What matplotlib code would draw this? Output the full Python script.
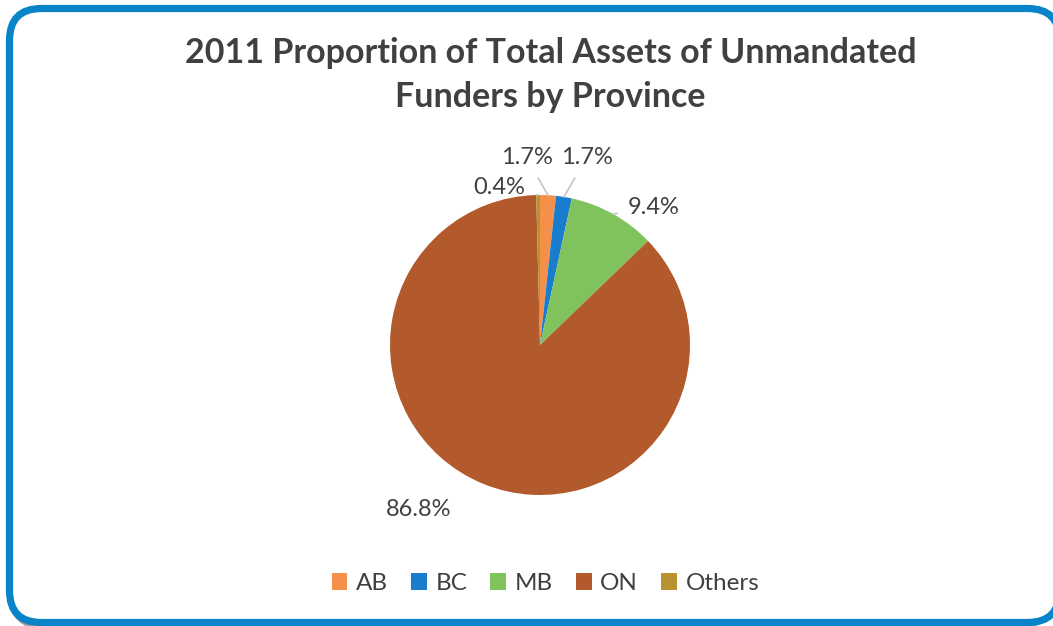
import matplotlib
matplotlib.use("Agg")
import matplotlib.pyplot as plt
import numpy as np
from matplotlib.patches import FancyBboxPatch, Patch

# ---- data ----
categories = ["AB", "BC", "MB", "ON", "Others"]
values = [1.7, 1.7, 9.4, 86.8, 0.4]
labels = ["1.7%", "1.7%", "9.4%", "86.8%", "0.4%"]
colors = ["#f4904a", "#1a7ccc", "#80c25c", "#b35a2c", "#b8922e"]
title = "2011 Proportion of Total Assets of Unmandated\nFunders by Province"

# label positions (pie data units, radius = 1)
label_pos = [(-0.09, 1.25), (0.31, 1.25), (0.76, 0.92), (-0.81, -1.10), (-0.27, 1.05)]
show_leader = [True, True, True, False, True]

plt.rcParams['font.family'] = ['Lato', 'DejaVu Sans']

W, H = 1053, 626
fig = plt.figure(figsize=(W / 100, H / 100), dpi=100)

# background / frame axes in pixel coordinates
bg = fig.add_axes([0, 0, 1, 1])
bg.set_xlim(0, W)
bg.set_ylim(H, 0)
bg.axis("off")
shadow = FancyBboxPatch((12, 12), 1050, 614, boxstyle="round,pad=0,rounding_size=32",
                        fc="none", ec="#9a9a9a", lw=5)
bg.add_patch(shadow)
frame = FancyBboxPatch((9.5, 8.5), 1050, 614, boxstyle="round,pad=0,rounding_size=32",
                       fc="white", ec="#0a84c8", lw=5.2)
bg.add_patch(frame)

fig.text(0.523, 1 - 75 / 626, title, ha="center", va="center", fontsize=24.5,
         fontweight="bold", color="#404040", linespacing=1.45)

# pie axes
cx, cy, r = 540, 345, 150
ax = fig.add_axes([(cx - r) / W, (H - cy - r) / H, 2 * r / W, 2 * r / H])
wedges, _ = ax.pie(values, colors=colors, startangle=90, counterclock=False, radius=1,
                   wedgeprops=dict(linewidth=0))
ax.set_xlim(-1, 1)
ax.set_ylim(-1, 1)
ax.set_aspect("equal")
ax.axis("off")

for w, lab, pos, lead in zip(wedges, labels, label_pos, show_leader):
    ang = np.deg2rad((w.theta1 + w.theta2) / 2)
    edge = (np.cos(ang), np.sin(ang))
    if lead:
        ax.annotate(lab, xy=edge, xytext=pos, ha="center", va="center", fontsize=17,
                    color="#404040", annotation_clip=False,
                    arrowprops=dict(arrowstyle="-", color="#c8c8c8", lw=1.3,
                                    shrinkA=6, shrinkB=0))
    else:
        ax.text(pos[0], pos[1], lab, ha="center", va="center", fontsize=17, color="#404040")

handles = [Patch(facecolor=c, edgecolor="none") for c in colors]
fig.legend(handles, categories, loc="center", bbox_to_anchor=(0.518, 0.068), ncol=5,
           frameon=False, fontsize=17.5, handlelength=0.65, handleheight=0.65,
           handletextpad=0.35, columnspacing=0.95, labelcolor="#404040")

fig.savefig("out.png", dpi=100)
